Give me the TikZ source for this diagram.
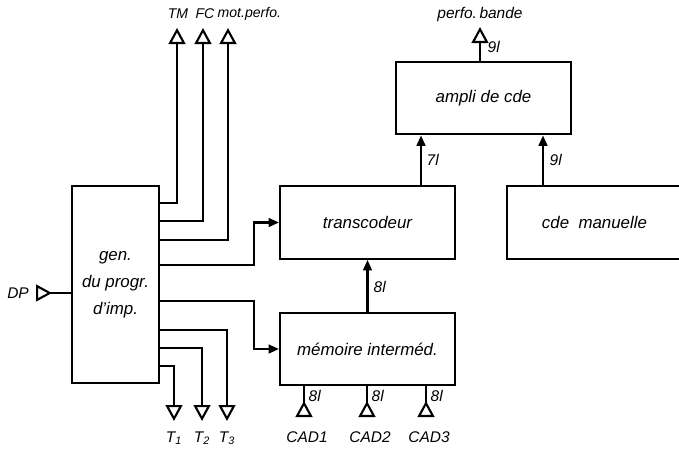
\documentclass[tikz,border=0pt]{standalone}
\usepackage{fontspec}
\setmainfont{Liberation Sans}
\usetikzlibrary{arrows.meta, positioning}

\begin{document}
\begin{tikzpicture}[x=0.25mm, y=-0.25mm,
    blk/.style={draw, line width=1.5pt, minimum width=43.75mm, minimum height=18.2mm,
                inner sep=0pt, align=center, font=\fontsize{12}{19}\selectfont\itshape},
    lbl/.style={font=\fontsize{11}{13}\selectfont\itshape, inner sep=1pt},
    wire/.style={line width=1.5pt},
    outarr/.style={wire, -{Triangle[open, length=4mm, width=4.2mm]}},
    inarr/.style={wire, {Triangle[open, reversed, length=4mm, width=4.2mm]}-},
    fillarr/.style={wire, -{Triangle[length=2.6mm, width=2.2mm]}}
  ]
  \clip (0,0) rectangle (679,454);

  % blocs
  \node[blk, minimum width=21.75mm, minimum height=49.25mm] (gen) at (115.5,284.5)
        {gen.\\du progr.\\d'imp.};
  \node[blk] (trans) at (367.5,222.5) {transcodeur};
  \node[blk] (mem)   at (367.5,349)   {mémoire interméd.};
  \node[blk] (ampli) at (483.5,98)    {ampli de cde};
  \node[blk] (cde)   at (594.5,222.5) {cde~~manuelle};

  % sorties vers le haut
  \coordinate (tm)  at (177,28);
  \coordinate (fc)  at (203,28);
  \coordinate (mot) at (228,28);
  \coordinate (pb)  at (480,27);
  \node[lbl, font=\fontsize{10}{12}\selectfont\itshape] (tmlbl) at (178,14) {TM};
  \node[lbl, font=\fontsize{10}{12}\selectfont\itshape] (fclbl) at (205,14) {FC};
  \node[lbl, font=\fontsize{10}{12}\selectfont\itshape, anchor=west] (motlbl) at (216,14) {mot.perfo.};
  \node[lbl] (pblbl)  at (480,14) {perfo.\,bande};

  \draw[outarr] (gen.east |- 0,203) -| (tm);
  \draw[outarr] (gen.east |- 0,221) -| (fc);
  \draw[outarr] (gen.east |- 0,240) -| (mot);
  \draw[outarr] (ampli.north -| pb) -- (pb);
  \node[lbl, anchor=west] at (486,47) {9l};

  % liaisons internes
  \draw[fillarr] (gen.east |- 0,265) -- (254,265) |- (trans.west);
  \draw[fillarr] (gen.east |- 0,301) -- (254,301) |- (mem.west);
  \draw[fillarr] (mem.north) -- (trans.south);
  \node[lbl, anchor=west] at (372,287) {8l};
  \draw[fillarr] (trans.north -| 421,0) -- (ampli.south -| 421,0);
  \node[lbl, anchor=west] at (425,160) {7l};
  \draw[fillarr] (cde.north -| 543,0) -- (ampli.south -| 543,0);
  \node[lbl, anchor=west] at (548,160) {9l};

  % entree DP
  \coordinate (dp) at (36,293);
  \node[lbl] (dplbl) at (18,293) {DP};
  \draw[inarr] (dp) -- (gen.west |- dp);

  % sorties T
  \foreach \x/\y/\n in {174/366/1, 202/348/2, 227/330/3}{
    \coordinate (t\n) at (\x,421);
    \draw[outarr] (gen.east |- 0,\y) -| (t\n);
    \node[lbl] (tlbl\n) at (\x,438) {T\textsubscript{\n}};
  }

  % entrees CAD
  \foreach \x/\n in {304/1, 367/2, 426/3}{
    \coordinate (cad\n) at (\x,417);
    \draw[inarr] (cad\n) -- (mem.south -| cad\n);
    \node[lbl] (cadlbl\n) at (\x+3,437) {CAD\n};
    \node[lbl, anchor=west] at (\x+3,396) {8l};
  }
\end{tikzpicture}
\end{document}
